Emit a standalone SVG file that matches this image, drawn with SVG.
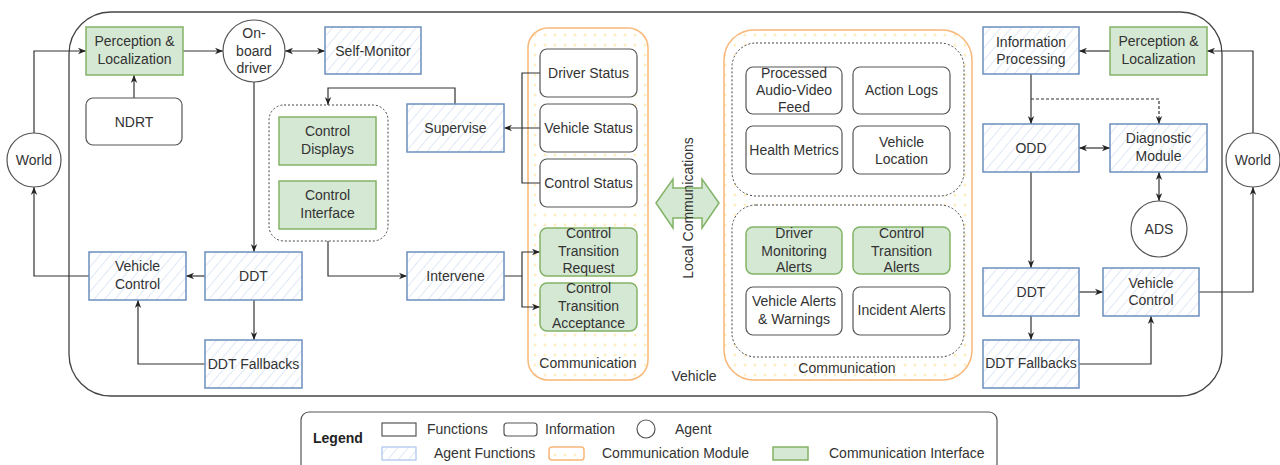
<svg xmlns="http://www.w3.org/2000/svg" width="1280" height="465" viewBox="0 0 1280 465">
  <defs>
    <style>
      .t { font-family: "Liberation Sans", Arial, sans-serif; font-size: 14px; fill: #333; text-anchor: middle; }
      .ts { font-family: "Liberation Sans", Arial, sans-serif; font-size: 14px; fill: #333; }
      .lb { font-family: "Liberation Sans", Arial, sans-serif; font-size: 14px; font-weight: bold; fill: #222; }
      .fn { fill: #fff; stroke: #555; stroke-width: 1.2; }
      .info { fill: #fff; stroke: #555; stroke-width: 1.2; }
      .agent { fill: #fff; stroke: #555; stroke-width: 1.2; }
      .af { fill: url(#hatch); stroke: #6c8ebf; stroke-width: 1.5; }
      .ci { fill: #d5e8d4; stroke: #82b366; stroke-width: 1.5; }
      .cm { fill: url(#dots); stroke: #f8b778; stroke-width: 1.5; }
      .grp { fill: #fff; stroke: #444; stroke-width: 1; stroke-dasharray: 2 2; }
      .c { fill: none; stroke: #333; stroke-width: 1.2; }
      .a { marker-end: url(#arr); }
      .ab { marker-start: url(#arr); marker-end: url(#arr); }
      .dash { stroke-dasharray: 3 2; }
    </style>
    <pattern id="hatch" width="8" height="8" patternUnits="userSpaceOnUse" patternTransform="rotate(40)">
      <rect width="8" height="8" fill="#fff"/>
      <line x1="0" y1="0" x2="0" y2="8" stroke="#c9d9f0" stroke-width="1.2"/>
    </pattern>
    <pattern id="dots" width="10" height="10" patternUnits="userSpaceOnUse">
      <rect width="10" height="10" fill="#fff"/>
      <circle cx="5" cy="5" r="1.5" fill="#fdeec4"/>
    </pattern>
    <marker id="arr" viewBox="0 0 10 10" refX="10" refY="5" markerWidth="8" markerHeight="8" markerUnits="userSpaceOnUse" orient="auto-start-reverse">
      <path d="M0,1 L10,5 L0,9 L3,5 z" fill="#222"/>
    </marker>
  </defs>

  <rect width="1280" height="465" fill="#fff"/>

  <!-- vehicle boundary -->
  <g id="vehicle">
    <rect x="69" y="12" width="1153" height="384" rx="42" fill="none" stroke="#444" stroke-width="1.3"/>
    <text class="t" x="694" y="381">Vehicle</text>
  </g>

  <!-- communication modules -->
  <g id="comm-left">
    <rect class="cm" x="528" y="28" width="120" height="352" rx="20"/>
    <text class="t" x="588" y="368">Communication</text>
  </g>
  <g id="comm-right">
    <rect class="cm" x="724" y="30" width="248" height="350" rx="30"/>
    <rect class="grp" x="732" y="43" width="232" height="153" rx="24"/>
    <rect class="grp" x="732" y="205" width="232" height="152" rx="24"/>
    <text class="t" x="847" y="373">Communication</text>
  </g>

  <!-- connectors -->
  <g id="connectors">
    <path class="c a" d="M34,133 V51 H86"/>
    <path class="c a" d="M183,51 H223"/>
    <path class="c ab" d="M285,51 H325"/>
    <path class="c a" d="M134,98 V75"/>
    <path class="c a" d="M254,82 V252"/>
    <path class="c a" d="M455,104 V88 H328 V105"/>
    <path class="c" d="M540,73 H522 V183 H540"/>
    <path class="c a" d="M540,128 H504"/>
    <path class="c a" d="M328,241 V276 H407"/>
    <path class="c a" d="M504,276 H522 V252 H540"/>
    <path class="c a" d="M522,276 V307 H540"/>
    <path class="c a" d="M205,276 H186"/>
    <path class="c a" d="M89,276 H34 V187"/>
    <path class="c a" d="M254,300 V340"/>
    <path class="c a" d="M205,364 H138 V300"/>

    <path class="c a" d="M1253,133 V51 H1207"/>
    <path class="c a" d="M1110,51 H1079"/>
    <path class="c a" d="M1031,74 V124"/>
    <path class="c a dash" d="M1031,99 H1159 V124"/>
    <path class="c ab" d="M1079,148 H1110"/>
    <path class="c ab" d="M1159,172 V201"/>
    <path class="c a" d="M1031,172 V268"/>
    <path class="c a" d="M1079,292 H1103"/>
    <path class="c a" d="M1199,292 H1253 V187"/>
    <path class="c a" d="M1031,316 V340"/>
    <path class="c a" d="M1079,364 H1151 V316"/>
  </g>

  <!-- left side nodes -->
  <g id="world-left">
    <circle class="agent" cx="34" cy="160" r="27"/>
    <text class="t" x="34" y="165">World</text>
  </g>
  <g id="perception-left">
    <rect class="ci" x="86" y="27" width="97" height="48"/>
    <text class="t" x="134.5" y="46">Perception &amp;</text>
    <text class="t" x="134.5" y="64">Localization</text>
  </g>
  <g id="onboard-driver">
    <circle class="agent" cx="254" cy="51" r="31"/>
    <text class="t" x="254" y="38">On-</text>
    <text class="t" x="254" y="56">board</text>
    <text class="t" x="254" y="73">driver</text>
  </g>
  <g id="self-monitor">
    <rect class="af" x="325" y="27" width="96" height="47"/>
    <text class="t" x="373" y="56">Self-Monitor</text>
  </g>
  <g id="ndrt">
    <rect class="info" x="86" y="98" width="96" height="47" rx="7"/>
    <text class="t" x="134" y="127">NDRT</text>
  </g>
  <g id="control-group">
    <rect class="grp" x="269" y="105" width="119" height="136" rx="15"/>
  </g>
  <g id="control-displays">
    <rect class="ci" x="279" y="117" width="97" height="48"/>
    <text class="t" x="327.5" y="136">Control</text>
    <text class="t" x="327.5" y="154">Displays</text>
  </g>
  <g id="control-interface">
    <rect class="ci" x="279" y="181" width="97" height="48"/>
    <text class="t" x="327.5" y="200">Control</text>
    <text class="t" x="327.5" y="218">Interface</text>
  </g>
  <g id="supervise">
    <rect class="af" x="407" y="104" width="97" height="48"/>
    <text class="t" x="455.5" y="133">Supervise</text>
  </g>
  <g id="intervene">
    <rect class="af" x="407" y="252" width="97" height="48"/>
    <text class="t" x="455.5" y="281">Intervene</text>
  </g>
  <g id="ddt-left">
    <rect class="af" x="205" y="252" width="97" height="48"/>
    <text class="t" x="253.5" y="281">DDT</text>
  </g>
  <g id="vehicle-control-left">
    <rect class="af" x="89" y="252" width="97" height="48"/>
    <text class="t" x="137.5" y="271">Vehicle</text>
    <text class="t" x="137.5" y="289">Control</text>
  </g>
  <g id="ddt-fallbacks-left">
    <rect class="af" x="205" y="340" width="97" height="48"/>
    <text class="t" x="253.5" y="369">DDT Fallbacks</text>
  </g>

  <!-- left communication contents -->
  <g id="driver-status">
    <rect class="info" x="540" y="49" width="97" height="48" rx="7"/>
    <text class="t" x="588.5" y="78">Driver Status</text>
  </g>
  <g id="vehicle-status">
    <rect class="info" x="540" y="104" width="97" height="48" rx="7"/>
    <text class="t" x="588.5" y="133">Vehicle Status</text>
  </g>
  <g id="control-status">
    <rect class="info" x="540" y="159" width="97" height="48" rx="7"/>
    <text class="t" x="588.5" y="188">Control Status</text>
  </g>
  <g id="control-transition-request">
    <rect class="ci" x="540" y="228" width="97" height="48" rx="7"/>
    <text class="t" x="588.5" y="238">Control</text>
    <text class="t" x="588.5" y="256">Transition</text>
    <text class="t" x="588.5" y="273">Request</text>
  </g>
  <g id="control-transition-acceptance">
    <rect class="ci" x="540" y="283" width="97" height="48" rx="7"/>
    <text class="t" x="588.5" y="293">Control</text>
    <text class="t" x="588.5" y="311">Transition</text>
    <text class="t" x="588.5" y="328">Acceptance</text>
  </g>

  <!-- local communications link -->
  <g id="local-communications">
    <polygon class="ci" points="656,203 673,179 673,188 702,188 702,179 719,203 702,228 702,218 673,218 673,228"/>
    <text class="t" transform="translate(693,208) rotate(-90)">Local Communications</text>
  </g>

  <!-- right communication contents -->
  <g id="processed-feed">
    <rect class="info" x="746" y="67" width="96" height="47" rx="7"/>
    <text class="t" x="794" y="78">Processed</text>
    <text class="t" x="794" y="95">Audio-Video</text>
    <text class="t" x="794" y="112">Feed</text>
  </g>
  <g id="action-logs">
    <rect class="info" x="853" y="67" width="97" height="47" rx="7"/>
    <text class="t" x="901.5" y="95">Action Logs</text>
  </g>
  <g id="health-metrics">
    <rect class="info" x="746" y="126" width="96" height="48" rx="7"/>
    <text class="t" x="794" y="155">Health Metrics</text>
  </g>
  <g id="vehicle-location">
    <rect class="info" x="853" y="126" width="97" height="48" rx="7"/>
    <text class="t" x="901.5" y="147">Vehicle</text>
    <text class="t" x="901.5" y="164">Location</text>
  </g>
  <g id="driver-monitoring-alerts">
    <rect class="ci" x="746" y="227" width="96" height="47" rx="7"/>
    <text class="t" x="794" y="238">Driver</text>
    <text class="t" x="794" y="256">Monitoring</text>
    <text class="t" x="794" y="272">Alerts</text>
  </g>
  <g id="control-transition-alerts">
    <rect class="ci" x="853" y="227" width="97" height="47" rx="7"/>
    <text class="t" x="901.5" y="238">Control</text>
    <text class="t" x="901.5" y="256">Transition</text>
    <text class="t" x="901.5" y="272">Alerts</text>
  </g>
  <g id="vehicle-alerts">
    <rect class="info" x="746" y="287" width="96" height="48" rx="7"/>
    <text class="t" x="794" y="306">Vehicle Alerts</text>
    <text class="t" x="794" y="324">&amp; Warnings</text>
  </g>
  <g id="incident-alerts">
    <rect class="info" x="853" y="287" width="97" height="48" rx="7"/>
    <text class="t" x="901.5" y="315">Incident Alerts</text>
  </g>

  <!-- right side nodes -->
  <g id="information-processing">
    <rect class="af" x="983" y="27" width="96" height="47"/>
    <text class="t" x="1031" y="47">Information</text>
    <text class="t" x="1031" y="64">Processing</text>
  </g>
  <g id="perception-right">
    <rect class="ci" x="1110" y="27" width="97" height="48"/>
    <text class="t" x="1158.5" y="46">Perception &amp;</text>
    <text class="t" x="1158.5" y="64">Localization</text>
  </g>
  <g id="world-right">
    <circle class="agent" cx="1253" cy="160" r="27"/>
    <text class="t" x="1253" y="165">World</text>
  </g>
  <g id="odd">
    <rect class="af" x="983" y="124" width="96" height="48"/>
    <text class="t" x="1031" y="153">ODD</text>
  </g>
  <g id="diagnostic-module">
    <rect class="af" x="1110" y="124" width="97" height="48"/>
    <text class="t" x="1158.5" y="143">Diagnostic</text>
    <text class="t" x="1158.5" y="161">Module</text>
  </g>
  <g id="ads">
    <circle class="agent" cx="1159" cy="229" r="28"/>
    <text class="t" x="1159" y="234">ADS</text>
  </g>
  <g id="ddt-right">
    <rect class="af" x="983" y="268" width="96" height="48"/>
    <text class="t" x="1031" y="297">DDT</text>
  </g>
  <g id="vehicle-control-right">
    <rect class="af" x="1103" y="268" width="96" height="48"/>
    <text class="t" x="1151" y="288">Vehicle</text>
    <text class="t" x="1151" y="305">Control</text>
  </g>
  <g id="ddt-fallbacks-right">
    <rect class="af" x="983" y="340" width="96" height="48"/>
    <text class="t" x="1031" y="368">DDT Fallbacks</text>
  </g>

  <!-- legend -->
  <g id="legend">
    <rect x="301" y="412" width="696" height="60" rx="8" fill="#fff" stroke="#555" stroke-width="1.2"/>
    <text class="lb" x="313" y="443">Legend</text>
    <rect class="fn" x="382" y="423" width="34" height="13"/>
    <text class="ts" x="427" y="434">Functions</text>
    <rect class="info" x="504" y="423" width="33" height="13" rx="3"/>
    <text class="ts" x="545" y="434">Information</text>
    <circle class="agent" cx="646" cy="429" r="9"/>
    <text class="ts" x="675" y="434">Agent</text>
    <rect x="382" y="447" width="34" height="13" fill="url(#hatch)" stroke="#a9c4eb" stroke-width="1.2"/>
    <text class="ts" x="434" y="458">Agent Functions</text>
    <rect class="cm" x="549" y="447" width="35" height="13" rx="3"/>
    <text class="ts" x="602" y="458">Communication Module</text>
    <rect class="ci" x="773" y="447" width="35" height="13"/>
    <text class="ts" x="829" y="458">Communication Interface</text>
  </g>
</svg>
